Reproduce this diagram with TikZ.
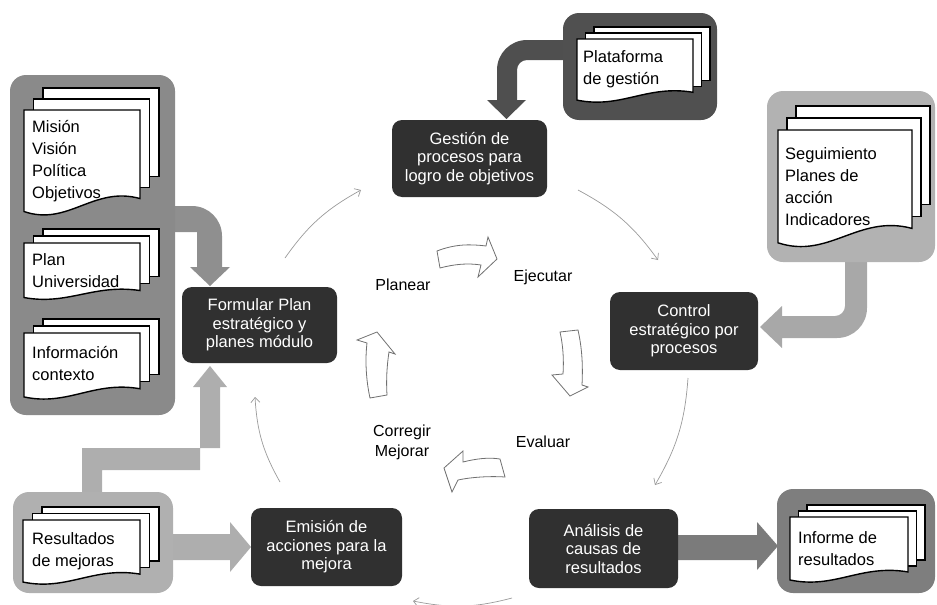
\documentclass[tikz,border=0pt]{standalone}
\usepackage{fontspec}
\setmainfont{Liberation Sans}
\usetikzlibrary{arrows.meta}
\definecolor{boxdark}{HTML}{303030}
\definecolor{panMis}{HTML}{8A8A8A}
\definecolor{panPlat}{HTML}{505050}
\definecolor{panSeg}{HTML}{B2B2B2}
\definecolor{panRes}{HTML}{B0B0B0}
\definecolor{panInf}{HTML}{7E7E7E}
\definecolor{arrMis}{HTML}{8F8F8F}
\definecolor{arrPlat}{HTML}{4F4F4F}
\definecolor{arrSeg}{HTML}{A8A8A8}
\definecolor{arrRes}{HTML}{AEAEAE}
\definecolor{arrInf}{HTML}{7B7B7B}
\definecolor{cycgray}{HTML}{9A9A9A}
\definecolor{ringgray}{HTML}{707070}
\newcommand\docstk[6]{%
  \pgfmathsetmacro\dxa{#1+2*#5}\pgfmathsetmacro\dya{#2-2*#6}%
  \pgfmathsetmacro\dxb{#1+#5}\pgfmathsetmacro\dyb{#2-#6}%
  \pgfmathsetmacro\xr{#1+#3}\pgfmathsetmacro\bh{0.82*#4}%
  \draw[docline] (\dxa,\dya) rectangle ++(#3,\bh);
  \draw[docline] (\dxb,\dyb) rectangle ++(#3,\bh);
  \draw[docline] (#1,#2) -- (\xr,#2) -- (\xr,{#2+0.82*#4})
     .. controls ({#1+0.6*#3},{#2+0.70*#4}) and ({#1+0.38*#3},{#2+1.08*#4}) .. (#1,{#2+0.94*#4}) -- cycle;
}
\begin{document}
\begin{tikzpicture}[x=1pt,y=-1pt,
  darkbox/.style={fill=boxdark, rounded corners=10pt, text=white, align=center,
    font=\fontsize{16.5}{18.5}\selectfont, inner sep=0pt},
  panel/.style={rounded corners=16pt, inner sep=0pt},
  docline/.style={draw=black, fill=white, line width=1.4pt},
  doctext/.style={anchor=west, align=left, inner sep=0pt, font=\fontsize{16.5}{22}\selectfont},
  cyc/.style={draw=cycgray, line width=0.7pt, -{Straight Barb[length=5pt,width=9pt]}, bend left=13},
  ring/.style={fill=white, draw=ringgray, line width=0.8pt},
  lbl/.style={font=\fontsize{16}{20}\selectfont, align=center, inner sep=0pt}
]
\useasboundingbox (0,0) rectangle (937,605);

% ---- block arrows (behind panels and boxes)
\fill[arrMis] (165,206) -- (192,206) .. controls (208.6,206) and (222,219.4) .. (222,236)
  -- (222,267) -- (230,267) -- (210,286) -- (190,267) -- (197,267) -- (197,232) -- (165,232) -- cycle;
\fill[arrPlat] (570,40) -- (527,40) .. controls (510.4,40) and (497,53.4) .. (497,70)
  -- (497,100) -- (487,100) -- (506.5,119) -- (526,100) -- (517,100) -- (517,70)
  .. controls (517,64.5) and (521.5,60) .. (527,60) -- (570,60) -- cycle;
\fill[arrSeg] (845,255) -- (867,255) -- (867,308) .. controls (867,324.6) and (853.6,338) .. (837,338)
  -- (782,338) -- (782,348) -- (760,327) -- (782,306) -- (782,316) -- (835,316)
  .. controls (840.5,316) and (845,311.5) .. (845,306) -- cycle;
\fill[arrRes] (82,497) -- (82,448) -- (220,448) -- (220,387) -- (227,387) -- (210,366)
  -- (193,387) -- (200,387) -- (200,470) -- (102,470) -- (102,497) -- cycle;
\fill[arrRes] (168,534) -- (230,534) -- (230,522) -- (251,547) -- (230,572) -- (230,560) -- (168,560) -- cycle;
\fill[arrInf] (676,535) -- (757,535) -- (757,522) -- (778,546) -- (757,570) -- (757,560) -- (676,560) -- cycle;

% ---- panels
\node[panel, fill=panMis, minimum width=165pt, minimum height=340pt] (pMis) at (92.5,245) {};
\node[panel, fill=panPlat, minimum width=154pt, minimum height=107pt] (pPlat) at (640,66.5) {};
\node[panel, fill=panSeg, minimum width=168pt, minimum height=171pt] (pSeg) at (851,176.5) {};
\node[panel, fill=panRes, minimum width=160pt, minimum height=101pt] (pRes) at (93,542.5) {};
\node[panel, fill=panInf, minimum width=158pt, minimum height=104pt] (pInf) at (856,541) {};

% ---- document stacks
\docstk{24}{110}{116}{108}{9.5}{11}
\docstk{24}{243}{116}{58}{9.5}{7}
\docstk{24}{333}{116}{68}{9.5}{7}
\docstk{577}{39}{116}{65}{8.5}{6}
\docstk{778}{130}{134}{120}{9}{12}
\docstk{23}{520}{117}{66}{9.5}{6.5}
\docstk{790}{517}{118}{67}{8.5}{6}

\node[doctext] (tMis) at (32,161) {Misión\\Visión\\Política\\Objetivos};
\node[doctext] (tPlan) at (32,271) {Plan\\Universidad};
\node[doctext] (tInfo) at (32,364) {Información\\contexto};
\node[doctext] (tPlat) at (583,69) {Plataforma\\de gestión};
\node[doctext] (tSeg) at (785,187) {Seguimiento\\Planes de\\acción\\Indicadores};
\node[doctext] (tRes) at (32,551.5) {Resultados\\de mejoras};
\node[doctext] (tInf) at (798,548.5) {Informe de\\resultados};

% ---- dark process boxes
\node[darkbox, minimum width=155pt, minimum height=77pt] (gest) at (469.5,158.5) {Gestión de\\procesos para\\logro de objetivos};
\node[darkbox, minimum width=148pt, minimum height=78pt] (ctrl) at (684,331) {Control\\estratégico por\\procesos};
\node[darkbox, minimum width=149pt, minimum height=79pt] (anal) at (603.5,548.5) {Análisis de\\causas de\\resultados};
\node[darkbox, minimum width=151pt, minimum height=78pt] (emis) at (326.5,547) {Emisión de\\acciones para la\\mejora};
\node[darkbox, minimum width=155pt, minimum height=76pt] (form) at (259.5,325) {Formular Plan\\estratégico y\\planes módulo};

% ---- thin cycle arcs
\coordinate (a1) at (285,258); \coordinate (a2) at (361,190);
\coordinate (b1) at (578,190); \coordinate (b2) at (658,260);
\coordinate (c1) at (688,378); \coordinate (c2) at (655,485);
\coordinate (d1) at (512,598); \coordinate (d2) at (413,601);
\coordinate (e1) at (280,482); \coordinate (e2) at (255,397);
\draw[cyc] (a1) to (a2);
\draw[cyc] (b1) to (b2);
\draw[cyc] (c1) to (c2);
\draw[cyc] (d1) to (d2);
\draw[cyc] (e1) to (e2);

% ---- outlined cycle arrows
\draw[ring] (437,251) .. controls (455,244) and (470,244) .. (486,246) -- (488,237) -- (497,259)
  -- (478,277) -- (481,265) .. controls (468,263) and (455,264) .. (440,268) -- cycle;
\draw[ring] (560,332) -- (578,330) .. controls (582,348) and (583,365) .. (582,385) -- (588,387)
  -- (570,396) -- (552,375) -- (563,374) .. controls (564,360) and (563,345) .. (560,332) -- cycle;
\draw[ring] (500,459) .. controls (488,457) and (475,459) .. (463,462) -- (463,451) -- (444,468)
  -- (452,492) -- (458,480) .. controls (472,477) and (490,476) .. (505,477) -- cycle;
\draw[ring] (370,398) .. controls (366,380) and (365,360) .. (367,343) -- (357,340) -- (377,332)
  -- (395,354) -- (389,352) .. controls (387,365) and (386,380) .. (387,395) -- cycle;

% ---- cycle labels
\node[lbl] (lPlan) at (403,285) {Planear};
\node[lbl] (lEje) at (543,277) {Ejecutar};
\node[lbl] (lEva) at (543,442) {Evaluar};
\node[lbl] (lCor) at (402,442) {Corregir\\Mejorar};
\end{tikzpicture}
\end{document}
